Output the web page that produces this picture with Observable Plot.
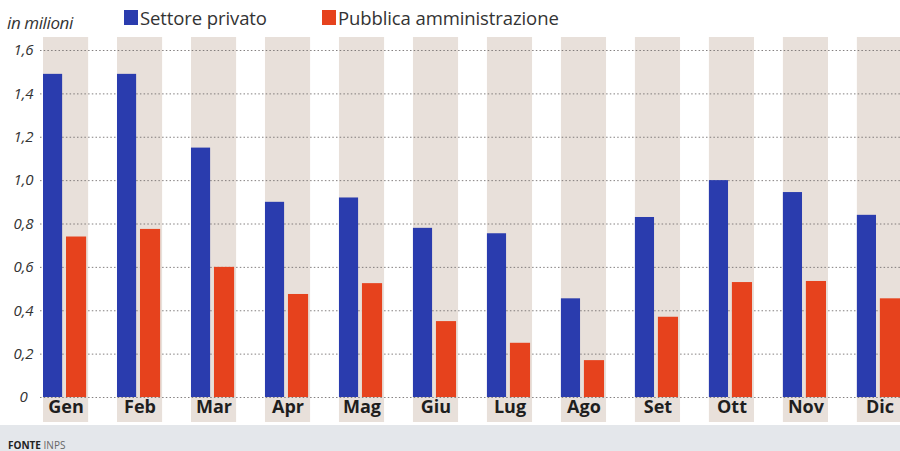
<!DOCTYPE html>
<html>
<head>
<meta charset="utf-8">
<script src="https://cdn.jsdelivr.net/npm/d3@7"></script>
<script src="https://cdn.jsdelivr.net/npm/@observablehq/plot@0.6"></script>
<style>
  html, body { margin: 0; padding: 0; background: #fff; }
  #wrap { position: relative; width: 900px; height: 451px; overflow: hidden;
          background: linear-gradient(to bottom, #fff 0, #fff 425px, #e4e7eb 425px, #e4e7eb 451px);
          font-family: "Open Sans", Lato, sans-serif; }
  #chart { position: absolute; left: 0; top: 0; }
  .unit { position: absolute; left: 7px; top: 11px; font-style: italic; font-size: 17px; color: #333; letter-spacing: -0.4px; }
  .leg { position: absolute; top: 5px; font-size: 18.5px; color: #333; display: flex; align-items: center; letter-spacing: -0.1px; }
  .sw { width: 14px; height: 15px; margin-right: 2px; display: inline-block; }
  .src { position: absolute; left: 8px; top: 438px; font-size: 10px; color: #666; }
  .src b { color: #222; }
</style>
</head>
<body>
<div id="wrap">
  <div id="chart"></div>
  <div class="unit">in milioni</div>
  <div class="leg" style="left:124px"><span class="sw" style="background:#2a3cae"></span>Settore privato</div>
  <div class="leg" style="left:322px"><span class="sw" style="background:#e6421d"></span>Pubblica amministrazione</div>
  <div class="src"><b>FONTE</b> INPS</div>
</div>
<script>
const months = ["Gen","Feb","Mar","Apr","Mag","Giu","Lug","Ago","Set","Ott","Nov","Dic"];
const privato = [1.49, 1.49, 1.15, 0.90, 0.92, 0.78, 0.755, 0.455, 0.83, 1.0, 0.945, 0.84];
const pubblica = [0.74, 0.775, 0.60, 0.475, 0.525, 0.35, 0.25, 0.17, 0.37, 0.53, 0.535, 0.455];
const yTicks = [0, 0.2, 0.4, 0.6, 0.8, 1.0, 1.2, 1.4, 1.6];
const yTickLabels = ["0", "0,2", "0,4", "0,6", "0,8", "1,0", "1,2", "1,4", "1,6"];

const rowsP = months.map((m, i) => ({month: m, value: privato[i]}));
const rowsA = months.map((m, i) => ({month: m, value: pubblica[i]}));
const yMax = yTicks[yTicks.length - 1];

const chart = Plot.plot({
  width: 900,
  height: 451,
  marginTop: 50,
  marginBottom: 54,
  marginLeft: 40,
  marginRight: 0,
  style: {background: "none", fontFamily: "'Open Sans', Lato, sans-serif"},
  x: {type: "band", domain: months, range: [43, 902], paddingInner: 0.39, paddingOuter: 0, align: 0, round: false},
  y: {domain: [0, yMax], axis: null},
  marks: [
    Plot.barY(months, {x: d => d, y1: () => 0, y2: () => yMax, fill: "#e8e0da", insetTop: -13, insetBottom: -25}),
    Plot.gridY(yTicks, {stroke: "#6f6a6a", strokeOpacity: 0.85, strokeDasharray: "1.5 2.2", strokeWidth: 1}),
    Plot.barY(rowsP, {x: "month", y: "value", fill: "#2a3cae", insetLeft: 0, insetRight: 26}),
    Plot.barY(rowsA, {x: "month", y: "value", fill: "#e6421d", insetLeft: 23, insetRight: 2}),
    Plot.axisX({tickSize: 0, tickPadding: 3, fontSize: 18, fontWeight: "bold", fill: "#1e1e1e", label: null}),
    Plot.text(yTicks, {y: d => d, text: (d, i) => yTickLabels[i], frameAnchor: "left", dx: -17, textAnchor: "middle",
      fontStyle: "italic", fontSize: 15, fill: "#333"})
  ]
});
document.getElementById("chart").appendChild(chart);
</script>
</body>
</html>
